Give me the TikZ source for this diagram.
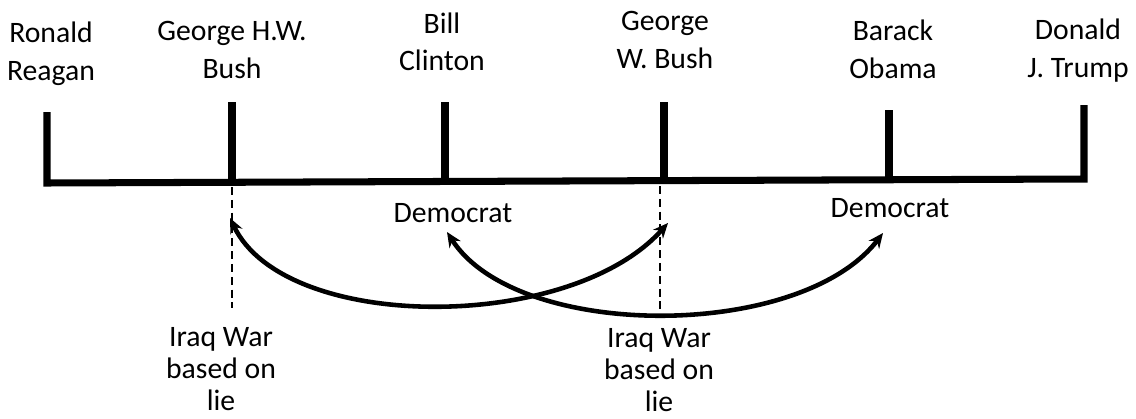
\documentclass[tikz,border=0pt]{standalone}
\usepackage{fontspec}
\setmainfont{Carlito}
\usetikzlibrary{arrows.meta}
\begin{document}
\begin{tikzpicture}[x=0.02cm,y=-0.02cm,
    prez/.style={align=center,anchor=base,font=\fontsize{16.9}{21.5}\selectfont},
    event/.style={align=center,anchor=base,font=\fontsize{16.9}{18.2}\selectfont},
    bar/.style={line width=4pt,line join=miter},
    guide/.style={line width=0.8pt,dash pattern=on 4.5pt off 2.8pt},
    link/.style={line width=2.6pt,{Stealth[length=8.5pt,width=7.5pt]}-{Stealth[length=8.5pt,width=7.5pt]}}]
  \useasboundingbox (0,0) rectangle (1136,419);
  % last line of each label sits at the given point
  \draw[prez]
    (51,80) node (0){Ronald\\Reagan}
    (232,78) node (1){George H.W.\\Bush}
    (442,71) node (2){Bill\\Clinton}
    (665,68) node (3){George\\W. Bush}
    (893,78) node (4){Barack\\Obama}
    (1078,77) node (5){Donald\\J. Trump};
  \draw[prez]
    (453,222) node (6){Democrat}
    (890,217) node (7){Democrat};
  \draw[event]
    (221,410) node (8){Iraq War\\based on\\lie}
    (659,411) node (9){Iraq War\\based on\\lie};
  % timeline
  \coordinate (t0) at (47,112);
  \coordinate (t1) at (232,102);
  \coordinate (t2) at (445,102);
  \coordinate (t3) at (664,102);
  \coordinate (t4) at (889,110);
  \coordinate (t5) at (1084,105);
  \draw[bar] (t0) -- (47,183) -- (1084,179) -- (t5);
  \draw[bar] (t1) -- (232,182.3);
  \draw[bar] (t2) -- (445,181.5);
  \draw[bar] (t3) -- (664,180.6);
  \draw[bar] (t4) -- (889,179.8);
  % dashed guides
  \coordinate (g1) at (232,308);
  \coordinate (g2) at (660,313);
  \draw[guide] (232,187) -- (g1);
  \draw[guide] (660,186) -- (g2);
  % arrows
  \coordinate (a1) at (230,218);
  \coordinate (a2) at (668,223);
  \coordinate (d1) at (447,232);
  \coordinate (d2) at (883,233);
  \begin{scope}[link]
    \draw (a1) .. controls (285,333) and (570,333) .. (a2);
    \draw (d1) .. controls (517,341) and (800,341) .. (d2);
  \end{scope}
\end{tikzpicture}
\end{document}
